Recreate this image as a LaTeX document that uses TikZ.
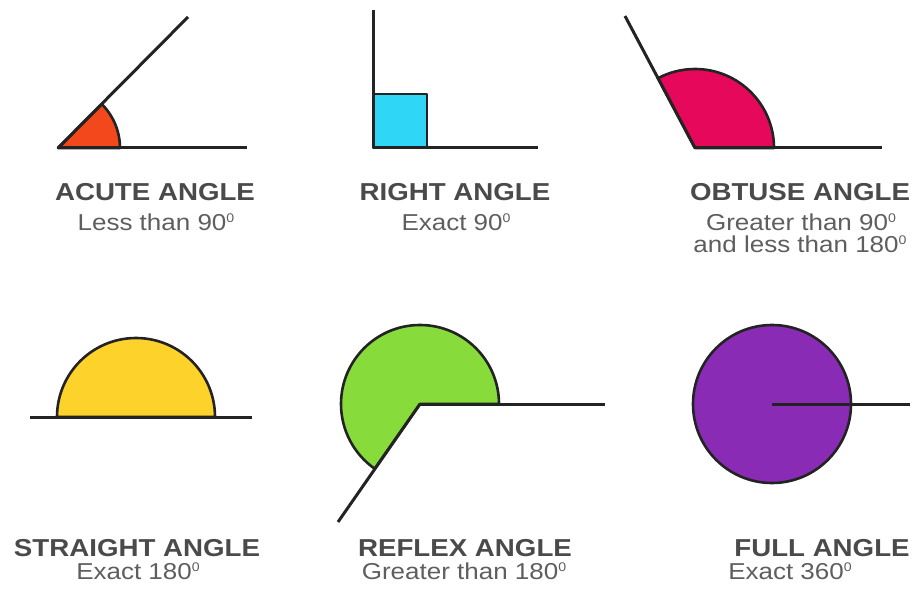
\documentclass[tikz,border=0pt]{standalone}
\usepackage{fontspec}
\setmainfont{Liberation Sans}[FakeStretch=1.13]
\usepackage{tikz}
\usetikzlibrary{positioning}
\definecolor{inkLine}{HTML}{232323}
\definecolor{ttlGray}{HTML}{4A4A4A}
\definecolor{subGray}{HTML}{5E5E5E}
\definecolor{acuteFill}{HTML}{F2481B}
\definecolor{rightFill}{HTML}{2FD6F6}
\definecolor{obtuseFill}{HTML}{E6085A}
\definecolor{straightFill}{HTML}{FDD32B}
\definecolor{reflexFill}{HTML}{87DB3A}
\definecolor{fullFill}{HTML}{8A2BB6}
\newcommand{\degz}{\raisebox{7.2pt}{\fontsize{12.5}{12.5}\selectfont 0}}

\begin{document}
\begin{tikzpicture}[
    x=1pt, y=1pt,
    ray/.style={draw=inkLine, line width=3pt},
    wedge/.style={draw=inkLine, line width=2.6pt, line join=round},
    ttl/.style={font=\fontsize{24.5}{26}\selectfont\bfseries, text=ttlGray, anchor=base, inner sep=0pt},
    sub/.style={font=\fontsize{23}{24}\selectfont, text=subGray, anchor=base, inner sep=0pt},
]
\useasboundingbox (0,0) rectangle (917,590);
% acute
\filldraw[wedge, fill=acuteFill] (58,442) -- ++(0:62) arc[start angle=0, end angle=45, radius=62] -- cycle;
\draw[ray] (58,442) -- (247,442);
\draw[ray] (58,442) -- (188,573);
\node[ttl] (acuteT) at (155,390) {ACUTE ANGLE};
\node[sub] (acuteS) at (156,360) {Less than 90\degz};
% right
\filldraw[wedge, fill=rightFill] (373,442) rectangle (427,496);
\draw[ray] (373,442) -- (538,442);
\draw[ray] (373,442) -- (373,580);
\node[ttl] (rightT) at (455,390) {RIGHT ANGLE};
\node[sub] (rightS) at (456,360) {Exact 90\degz};
% obtuse
\filldraw[wedge, fill=obtuseFill] (695,442) -- ++(0:79) arc[start angle=0, end angle=118, radius=79] -- cycle;
\draw[ray] (695,442) -- (882,442);
\draw[ray] (695,442) -- (625,574);
\node[ttl] (obtuseT) at (800,390) {OBTUSE ANGLE};
\node[sub] (obtuseS) at (801,360) {Greater than 90\degz};
\node[sub] (obtuseS2) at (800,338) {and less than 180\degz};
% straight
\filldraw[wedge, fill=straightFill] (136,173) -- ++(0:79) arc[start angle=0, end angle=180, radius=79] -- cycle;
\draw[ray] (30,173) -- (252,173);
\node[ttl] (straightT) at (137,34) {STRAIGHT ANGLE};
\node[sub] (straightS) at (138,11) {Exact 180\degz};
% reflex
\filldraw[wedge, fill=reflexFill] (420,186) -- ++(0:79) arc[start angle=0, end angle=235, radius=79] -- cycle;
\draw[ray] (420,186) -- (605,186);
\draw[ray] (420,186) -- (338,68);
\node[ttl] (reflexT) at (465,34) {REFLEX ANGLE};
\node[sub] (reflexS) at (464,11) {Greater than 180\degz};
% full
\filldraw[wedge, fill=fullFill] (772,186) circle[radius=79];
\draw[ray] (772,186) -- (910,186);
\node[ttl] (fullT) at (822,34) {FULL ANGLE};
\node[sub] (fullS) at (790,11) {Exact 360\degz};
\end{tikzpicture}
\end{document}
